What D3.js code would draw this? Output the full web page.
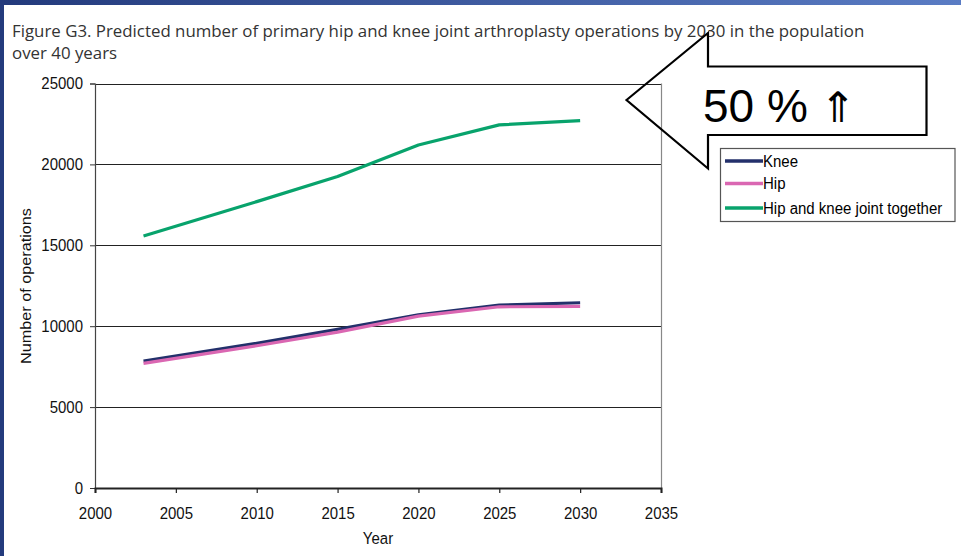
<!DOCTYPE html>
<html><head><meta charset="utf-8">
<script src="https://cdn.jsdelivr.net/npm/d3@7"></script>
<style>html,body{margin:0;padding:0;background:#fff;overflow:hidden}</style>
</head><body>
<svg id="c" width="961" height="556"></svg>
<script>
const years = [2003, 2010, 2015, 2020, 2025, 2030];
const knee = [7850, 8940, 9800, 10700, 11300, 11450];
const hip = [7700, 8790, 9630, 10620, 11200, 11220];
const together = [15580, 17700, 19250, 21200, 22440, 22700];
const seriesNames = ["Knee", "Hip", "Hip and knee joint together"];
const seriesColors = ["#23306b", "#da67b2", "#08a36c"];
const xTicks = [2000, 2005, 2010, 2015, 2020, 2025, 2030, 2035];
const yTicks = [0, 5000, 10000, 15000, 20000, 25000];
const titleLines = ["Figure G3. Predicted number of primary hip and knee joint arthroplasty operations by 2030 in the population", "over 40 years"];
const calloutText = "50 %";
const calloutArrow = "\u21D1";

const svg = d3.select("#c");
// slide frame
const defs = svg.append("defs");
const g1 = defs.append("linearGradient").attr("id","topband");
g1.append("stop").attr("offset","0%").attr("stop-color","#233a7c");
g1.append("stop").attr("offset","100%").attr("stop-color","#5a7cc4");
svg.append("rect").attr("x",0).attr("y",0).attr("width",961).attr("height",5).attr("fill","url(#topband)");
svg.append("rect").attr("x",0).attr("y",0).attr("width",4).attr("height",556).attr("fill","#243b7d");

// title
const tfont = "'Open Sans', 'Noto Sans', sans-serif";
const t1 = svg.append("text").attr("x",12).attr("y",37).attr("font-family",tfont).attr("font-size",16).attr("fill","#333").text(titleLines[0]);
const len = t1.node().getComputedTextLength();
const fs = 16*853/len;
t1.attr("font-size",fs);
svg.append("text").attr("x",12).attr("y",59).attr("font-family",tfont).attr("font-size",fs).attr("fill","#333").text(titleLines[1]);

const L = 95, R = 661, T = 83.5, B = 488;
const x = d3.scaleLinear().domain([2000,2035]).range([L,R]);
const y = d3.scaleLinear().domain([0,25000]).range([B,T]);
const afont = "'Liberation Sans', Arial, sans-serif";

// gridlines
svg.append("g").selectAll("line").data(yTicks.filter(d=>d>0)).join("line")
  .attr("x1",L).attr("x2",R).attr("y1",d=>Math.round(y(d))+0.5).attr("y2",d=>Math.round(y(d))+0.5)
  .attr("stroke","#222").attr("stroke-width",1.2);
// right border
svg.append("line").attr("x1",R+0.5).attr("x2",R+0.5).attr("y1",T).attr("y2",B).attr("stroke","#888").attr("stroke-width",1.2);

// y axis
const ya = svg.append("g").attr("transform",`translate(${L},0)`)
  .call(d3.axisLeft(y).tickValues(yTicks).tickSize(5).tickPadding(7).tickFormat(d3.format("d")));
ya.select(".domain").attr("stroke","#444").attr("stroke-width",1.2);
ya.selectAll(".tick line").attr("stroke","#333");
ya.selectAll("text").attr("font-family",afont).attr("font-size",15).attr("fill","#111").attr("transform","scale(1,1.12)");

// x axis
const xa = svg.append("g").attr("transform",`translate(0,${B})`)
  .call(d3.axisBottom(x).tickValues(xTicks).tickSize(5).tickPadding(12).tickFormat(d3.format("d")));
xa.select(".domain").attr("stroke","#222").attr("stroke-width",2);
xa.selectAll(".tick line").attr("stroke","#222").attr("stroke-width",1.2);
xa.selectAll("text").attr("font-family",afont).attr("font-size",15).attr("fill","#111").attr("transform","scale(1,1.12)");

svg.append("text").attr("transform","translate(378,544) scale(1,1.1)").attr("text-anchor","middle").attr("font-family",afont).attr("font-size",15).attr("fill","#111").text("Year");
svg.append("text").attr("transform","translate(31,286) rotate(-90) scale(1.08,1)").attr("text-anchor","middle").attr("font-family",afont).attr("font-size",15).attr("fill","#111").text("Number of operations");

// lines
const data = [knee, hip, together];
const line = d3.line().x((d,i)=>x(years[i])).y(d=>y(d));
[2,0,1].forEach(k=>{
  svg.append("path").datum(data[k]).attr("d",line).attr("fill","none")
    .attr("stroke",seriesColors[k]).attr("stroke-width",3.2).attr("stroke-linejoin","round");
});

// callout arrow
const arrowPts = [[626.5,100],[708,33],[708,66.5],[926.5,66.5],[926.5,135],[708,135],[708,168.5]];
svg.append("path").attr("d", d3.line()(arrowPts) + "Z")
  .attr("fill","none").attr("stroke","#000").attr("stroke-width",2.2).attr("stroke-linejoin","miter");
svg.append("text").attr("x",703).attr("y",122).attr("font-family",afont).attr("font-size",46).attr("fill","#000").text(calloutText);
svg.append("text").attr("transform","translate(838,122) scale(1.45,1.4)").attr("text-anchor","middle").attr("font-family","'DejaVu Sans', sans-serif").attr("font-size",30).attr("fill","#000").text(calloutArrow);

// legend
const lg = svg.append("g");
lg.append("rect").attr("x",720.5).attr("y",148.5).attr("width",234.5).attr("height",73).attr("fill","#fff").attr("stroke","#555").attr("stroke-width",1.2);
const ly = [161, 183.5, 208];
seriesNames.forEach((n,i)=>{
  lg.append("line").attr("x1",725).attr("x2",763).attr("y1",ly[i]).attr("y2",ly[i]).attr("stroke",seriesColors[i]).attr("stroke-width",3.5);
  lg.append("text").attr("transform",`translate(763,${ly[i]+5.5}) scale(1,1.08)`).attr("font-family",afont).attr("font-size",15).attr("fill","#000").text(n);
});
</script>
</body></html>
